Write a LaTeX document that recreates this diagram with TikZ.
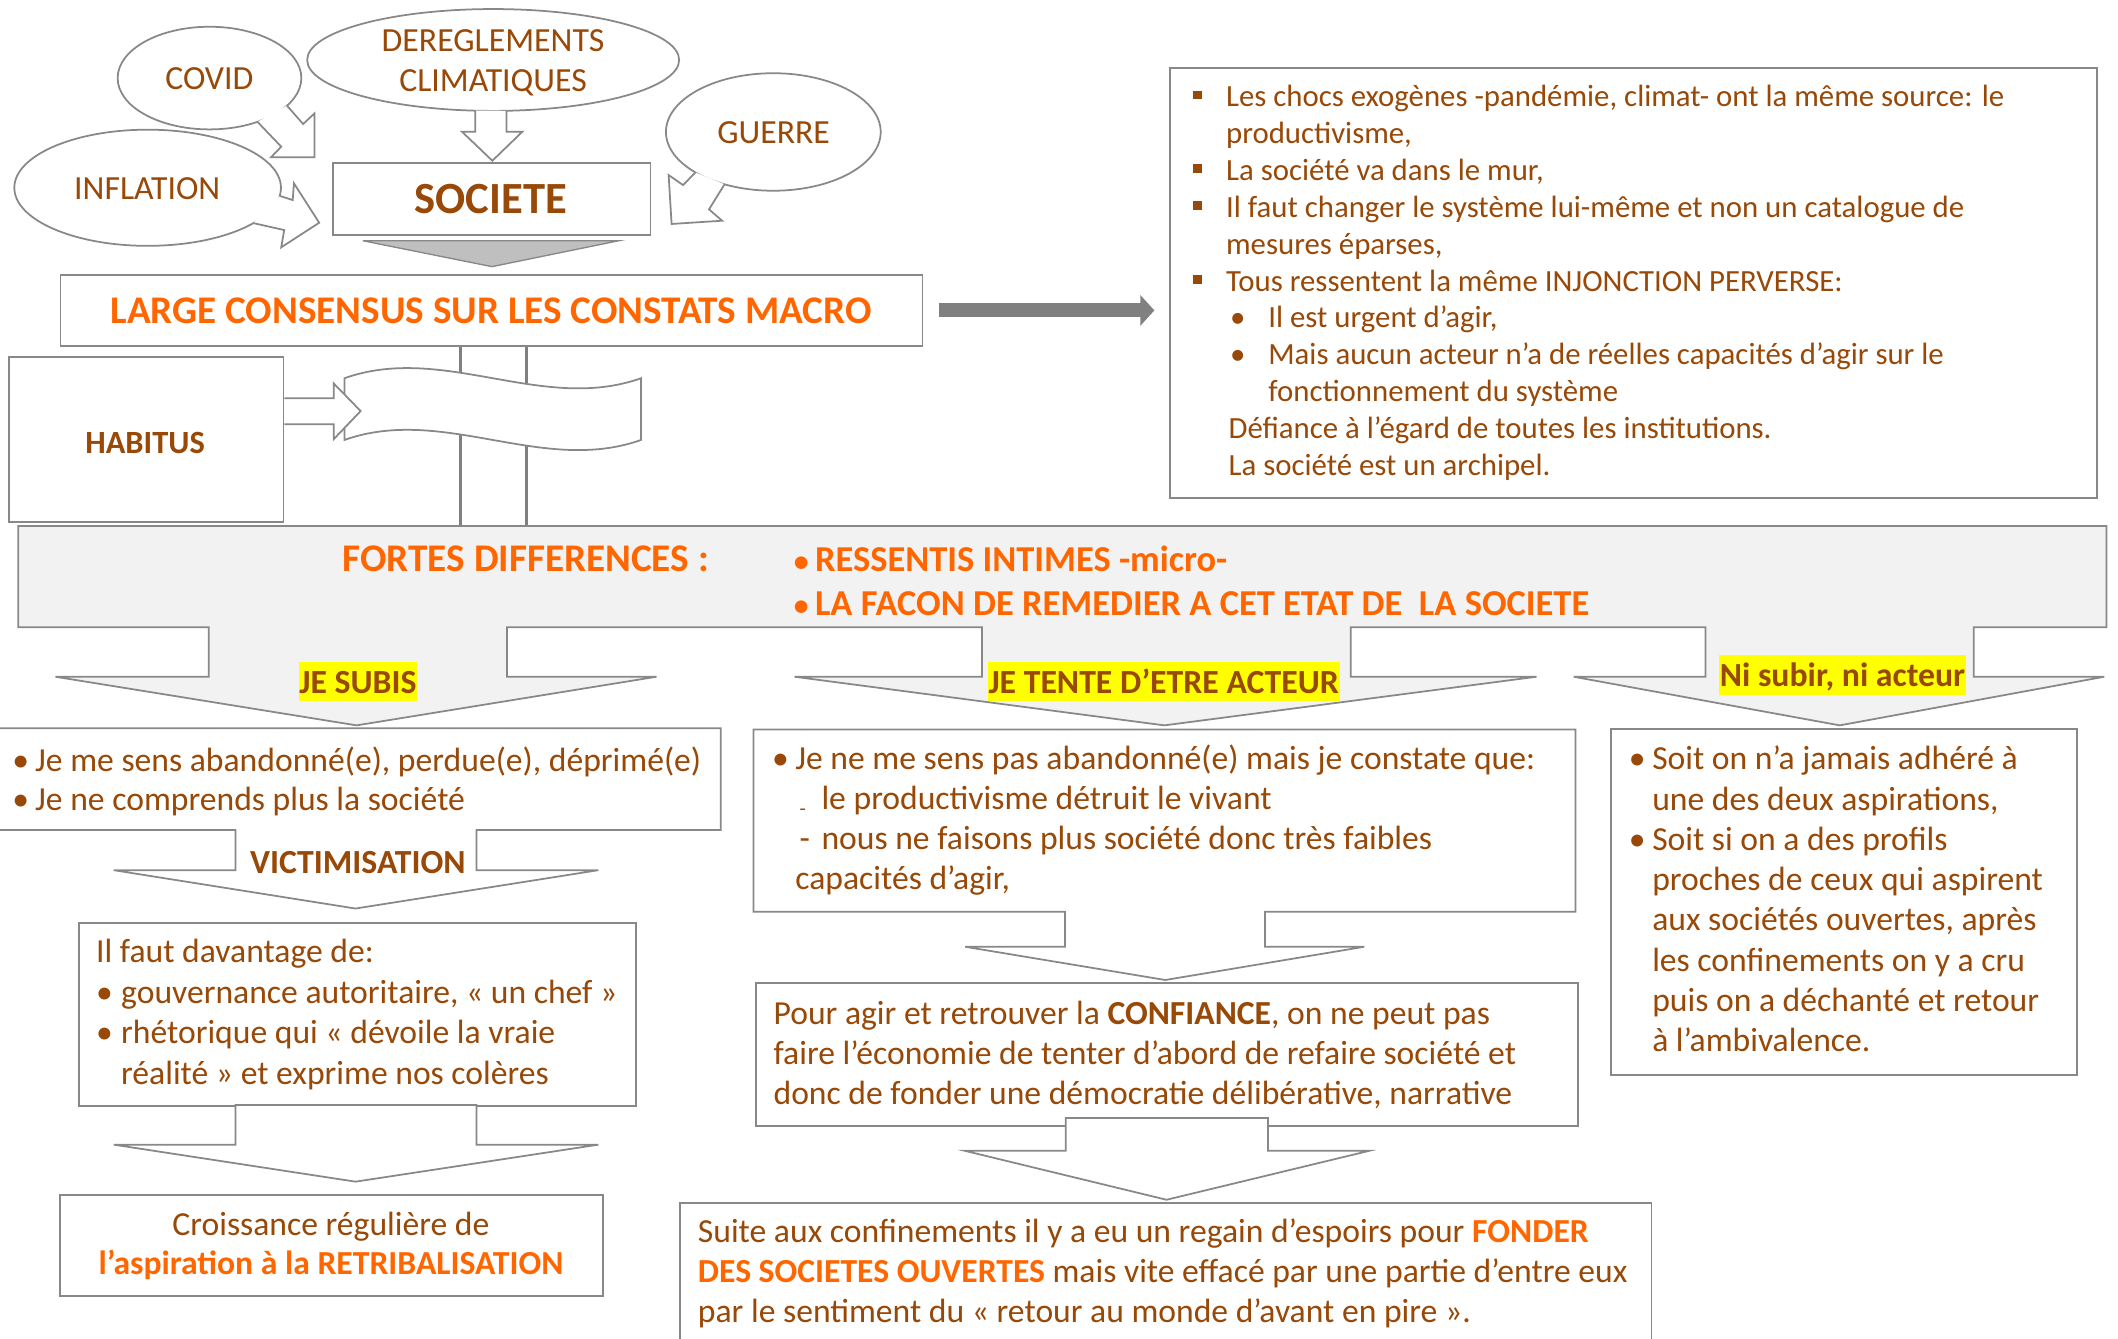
\documentclass[tikz,border=0pt]{standalone}
\usepackage{fontspec}
\setmainfont{Carlito}
\usetikzlibrary{arrows.meta}

\definecolor{txtbrown}{RGB}{152,72,7}
\definecolor{txtorange}{RGB}{255,102,0}
\definecolor{linegray}{RGB}{136,136,136}
\definecolor{panelgray}{RGB}{242,242,242}
\definecolor{wedgegray}{RGB}{191,191,191}
\definecolor{arrowgray}{RGB}{128,128,128}
\definecolor{hlyellow}{RGB}{255,255,0}

\newcommand\fsz[2]{\fontsize{#1}{#2}\selectfont}
\newcommand\bul[1]{\makebox[#1][l]{•}}
\newcommand\sqbul{\makebox[24.5pt][l]{\rule[5.6pt]{6.4pt}{6.4pt}}}
\newcommand\subbul{\hspace*{24.5pt}\makebox[31.3pt][l]{\hspace{3pt}•}}

\begin{document}
\begin{tikzpicture}[x=1pt,y=-1pt,
  outline/.style={draw=linegray,line width=1.3pt,line join=miter},
  boxnode/.style={outline,fill=white,rectangle,inner sep=0pt,anchor=north west},
  bodytext/.style={text=txtbrown,inner sep=0pt,anchor=base west,font=\fsz{24.9}{29.6}},
  lbl/.style={text=txtbrown,inner sep=0pt,anchor=base,font=\fsz{25}{30}},
  boldlbl/.style={text=txtbrown,inner sep=0pt,anchor=base,font=\bfseries\fsz{25}{29}},
  hilite/.style={boldlbl,fill=hlyellow,inner xsep=0.6pt,text height=23.5pt,text depth=6pt},
  orangehead/.style={text=txtorange,inner sep=0pt,font=\bfseries\fsz{27}{32}},
]
\useasboundingbox (0,0) rectangle (1568,991);
\fill[white] (0,0) rectangle (1568,991);

% ---------- speech bubbles around SOCIETE ----------
% COVID
\draw[outline,fill=white] (155.1,57.8) ellipse [x radius=68pt, y radius=38pt];
\fill[white] (212.45,78.22) -- (224.4,91.8) -- (232.9,83.9) -- (232.9,116.5) -- (200.6,116.5) -- (208.2,108.6) -- (190.63,90.2) -- cycle;
\draw[outline] (212.45,78.22) -- (224.4,91.8) -- (232.9,83.9) -- (232.9,116.5) -- (200.6,116.5) -- (208.2,108.6) -- (190.63,90.2);
\node[lbl] (covid) at (155,66.1) {COVID};

% DEREGLEMENTS CLIMATIQUES
\draw[outline,fill=white] (365.1,44.4) ellipse [x radius=137.7pt, y radius=37.7pt];
\fill[white] (374.95,82.0) -- (374.95,97.5) -- (386.7,97.5) -- (364.5,119) -- (342,97.5) -- (351.9,97.5) -- (351.9,81.93) -- cycle;
\draw[outline] (374.95,82.0) -- (374.95,97.5) -- (386.7,97.5) -- (364.5,119) -- (342,97.5) -- (351.9,97.5) -- (351.9,81.93);
\node[lbl] (dereg) at (365,38.3) {DEREGLEMENTS};
\node[lbl] (clim) at (365,67.9) {CLIMATIQUES};

% INFLATION
\draw[outline,fill=white] (109.3,139) ellipse [x radius=98.7pt, y radius=43pt];
\fill[white] (207.04,144.98) -- (216.7,148.1) -- (217.6,135.7) -- (236.3,164.9) -- (208.2,183.1) -- (210.4,170.3) -- (187.6,165.18) -- cycle;
\draw[outline] (207.04,144.98) -- (216.7,148.1) -- (217.6,135.7) -- (236.3,164.9) -- (208.2,183.1) -- (210.4,170.3) -- (187.6,165.18);
\node[lbl] (infl) at (109,147.6) {INFLATION};

% GUERRE
\draw[outline,fill=white] (572.5,97.7) ellipse [x radius=79.5pt, y radius=43.5pt];
\fill[white] (536.4,136.45) -- (524.9,155) -- (534.6,163.4) -- (497.2,165.8) -- (495,129.6) -- (505.7,137) -- (514.83,127.64) -- cycle;
\draw[outline] (536.4,136.45) -- (524.9,155) -- (534.6,163.4) -- (497.2,165.8) -- (495,129.6) -- (505.7,137) -- (514.83,127.64);
\node[lbl] (guerre) at (572.7,106.1) {GUERRE};

% ---------- SOCIETE and consensus ----------
\node[boxnode,minimum width=235.4pt,minimum height=53.1pt] (societe) at (245.6,120.2) {};
\node[boldlbl,font=\bfseries\fsz{33}{36}] (societelbl) at (363.4,158) {SOCIETE};
\filldraw[draw=linegray,fill=wedgegray,line width=1pt] (268.6,178.2) -- (458.1,178.2) -- (364.2,197.4) -- cycle;

\node[boxnode,minimum width=638.1pt,minimum height=52.5pt] (consensus) at (44.2,202.9) {};
\node[orangehead,anchor=base,font=\bfseries\fsz{29}{33}] (consensuslbl) at (363.5,239.5) {LARGE CONSENSUS SUR LES CONSTATS MACRO};

% right-hand panel
\node[boxnode,minimum width=686.1pt,minimum height=318.2pt] (panel) at (865.5,49.8) {};
\draw[arrowgray,line width=10.4pt,-{Triangle[length=10.4pt,width=22.2pt]}]
  ([xshift=11.6pt]consensus.east) -- ([xshift=-10.9pt]consensus.east -| panel.west);
\node[text=txtbrown,inner sep=0pt,anchor=base west,font=\fsz{22.8}{27.3}] (paneltext) at (883,79) {\begin{tabular}[t]{@{}l@{}}
\sqbul Les chocs exogènes -pandémie, climat- ont la même source: le\\
\hspace*{24.5pt}productivisme,\\
\sqbul La société va dans le mur,\\
\sqbul Il faut changer le système lui-même et non un catalogue de\\
\hspace*{24.5pt}mesures éparses,\\
\sqbul Tous ressentent la même INJONCTION PERVERSE:\\
\subbul Il est urgent d’agir,\\
\subbul Mais aucun acteur n’a de réelles capacités d’agir sur le\\
\hspace*{55.8pt}fonctionnement du système\\
\hspace*{26.4pt}Défiance à l’égard de toutes les institutions.\\
\hspace*{26.4pt}La société est un archipel.
\end{tabular}};

% ---------- HABITUS ----------
\draw[arrowgray,line width=2.2pt] ([xshift=-22.85pt]consensus.south) -- ++(0,134);
\draw[arrowgray,line width=2.2pt] ([xshift=26.05pt]consensus.south) -- ++(0,134);
\node[boxnode,minimum width=203.3pt,minimum height=122.1pt] (habitus) at (5.9,263.6) {};
\node[boldlbl,font=\bfseries\fsz{24}{28}] (habituslbl) at (107.4,335.6) {HABITUS};
\filldraw[outline,fill=white] (255,280) .. controls (328.2,254) and (401.4,306) .. (474.6,280)
  -- (474.6,325.7) .. controls (401.4,351.7) and (328.2,299.7) .. (255,325.7) -- cycle;
\filldraw[outline,fill=white] (habitus.east |- 0,294.9) -- (247,294.9) -- (247,283.8) -- (267,304.3)
  -- (247,325.2) -- (247,314.1) -- (habitus.east |- 0,314.1);

% ---------- strong differences ----------
\filldraw[outline,fill=panelgray] (13.5,389.4) -- (1559.5,389.4) -- (1559.5,464.4) -- (1461.2,464.4)
  -- (1461.2,501) -- (1557.8,501) -- (1362,537) -- (1165,501) -- (1262.6,501) -- (1262.6,464.4)
  -- (999.9,464.4) -- (999.9,501) -- (1137.5,501) -- (862,537) -- (588.2,501) -- (727,501)
  -- (727,464.4) -- (375.4,464.4) -- (375.4,501) -- (486,501) -- (264,537) -- (41,501)
  -- (154.6,501) -- (154.6,464.4) -- (13.5,464.4) -- cycle;
\node[orangehead,anchor=base west,font=\bfseries\fsz{29}{33}] (fortes) at (253.5,423.2) {FORTES DIFFERENCES :};
\node[orangehead,anchor=base west] (ressentis) at (587.5,423.2) {\makebox[15.7pt][l]{\fsz{22}{26}•}RESSENTIS INTIMES -micro-};
\node[orangehead,anchor=base west] (facon) at (587.5,456) {\makebox[15.7pt][l]{\fsz{22}{26}•}LA FACON DE REMEDIER A CET ETAT DE\ \ LA SOCIETE};
\node[hilite] (subis) at (265,513.3) {JE SUBIS};
\node[hilite] (tente) at (861.5,513.3) {JE TENTE D’ETRE ACTEUR};
\node[hilite] (nisubir) at (1364,508.3) {Ni subir, ni acteur};

% ---------- left column ----------
\filldraw[outline,fill=white] (-2,539.2) -- (533.6,539.2) -- (533.6,614.5) -- (352.8,614.5) -- (352.8,644.2)
  -- (443,644.2) -- (263.2,672.6) -- (84.2,644.2) -- (174.4,644.2) -- (174.4,614.5) -- (-2,614.5) -- cycle;
\node[bodytext,font=\fsz{24.9}{29}] (a1text) at (9,571) {\begin{tabular}[t]{@{}l@{}}
\bul{16.9pt}Je me sens abandonné(e), perdue(e), déprimé(e)\\
\bul{16.9pt}Je ne comprends plus la société
\end{tabular}};
\node[boldlbl] (victim) at (265,646.3) {VICTIMISATION};

\node[boxnode,minimum width=412.2pt,minimum height=135.5pt] (a2) at (58,682.5) {};
\node[bodytext,font=\fsz{24.9}{30.1}] (a2text) at (71,712.6) {\begin{tabular}[t]{@{}l@{}}
Il faut davantage de:\\
\bul{18.5pt}gouvernance autoritaire, « un chef »\\
\bul{18.5pt}rhétorique qui « dévoile la vraie\\
\hspace*{18.5pt}réalité » et exprime nos colères
\end{tabular}};
\filldraw[outline,fill=white] (174.4,818) -- (352.8,818) -- (352.8,847.4) -- (443,847.4) -- (263.2,874.8)
  -- (84.2,847.4) -- (174.4,847.4) -- cycle;

\node[boxnode,minimum width=402pt,minimum height=75pt] (a3) at (44,883.9) {};
\node[bodytext,anchor=base,font=\fsz{24.9}{28.6}] (a3text) at (245,914.6) {\begin{tabular}[t]{@{}c@{}}
Croissance régulière de\\
{\color{txtorange}\bfseries l’aspiration à la RETRIBALISATION}
\end{tabular}};

% ---------- middle column ----------
\filldraw[outline,fill=white] (557.8,540) -- (1166.3,540) -- (1166.3,674.9) -- (936.5,674.9) -- (936.5,700.9)
  -- (1010,700.9) -- (862.7,725.5) -- (714.5,700.9) -- (788.4,700.9) -- (788.4,674.9) -- (557.8,674.9) -- cycle;
\node[bodytext,font=\fsz{24.9}{29.5}] (b1text) at (571.5,570) {\begin{tabular}[t]{@{}l@{}}
\bul{17.1pt}Je ne me sens pas abandonné(e) mais je constate que:\\
\hspace*{17.1pt}\makebox[19.4pt][l]{\hspace{3.2pt}\raisebox{-4pt}{\fsz{15}{15}-}}le productivisme détruit le vivant\\
\hspace*{17.1pt}\makebox[19.4pt][l]{\hspace{3.2pt}-}nous ne faisons plus société donc très faibles\\
\hspace*{17.1pt}capacités d’agir,
\end{tabular}};

\node[boxnode,minimum width=608.3pt,minimum height=106pt] (b2) at (559.2,727.2) {};
\node[bodytext] (b2text) at (572.5,758.3) {\begin{tabular}[t]{@{}l@{}}
Pour agir et retrouver la \textbf{CONFIANCE}, on ne peut pas\\
faire l’économie de tenter d’abord de refaire société et\\
donc de fonder une démocratie délibérative, narrative
\end{tabular}};
\filldraw[outline,fill=white] (788.9,827.7) -- (938.7,827.7) -- (938.7,852) -- (1013.5,852) -- (863.6,888.2)
  -- (714.5,852) -- (788.9,852) -- cycle;

\node[boxnode,minimum width=719.5pt,minimum height=110pt] (b3) at (502.5,889.7) {};
\node[bodytext] (b3text) at (516.5,920) {\begin{tabular}[t]{@{}l@{}}
Suite aux confinements il y a eu un regain d’espoirs pour {\color{txtorange}\bfseries FONDER}\\
{\color{txtorange}\bfseries DES SOCIETES OUVERTES} mais vite effacé par une partie d’entre eux\\
par le sentiment du « retour au monde d’avant en pire ».
\end{tabular}};

% ---------- right column ----------
\node[boxnode,minimum width=344.8pt,minimum height=255.9pt] (c1) at (1192,539.2) {};
\node[bodytext,font=\fsz{24.9}{29.8}] (c1text) at (1205.6,570) {\begin{tabular}[t]{@{}l@{}}
\bul{17.4pt}Soit on n’a jamais adhéré à\\
\hspace*{17.4pt}une des deux aspirations,\\
\bul{17.4pt}Soit si on a des profils\\
\hspace*{17.4pt}proches de ceux qui aspirent\\
\hspace*{17.4pt}aux sociétés ouvertes, après\\
\hspace*{17.4pt}les confinements on y a cru\\
\hspace*{17.4pt}puis on a déchanté et retour\\
\hspace*{17.4pt}à l’ambivalence.
\end{tabular}};
\end{tikzpicture}
\end{document}
